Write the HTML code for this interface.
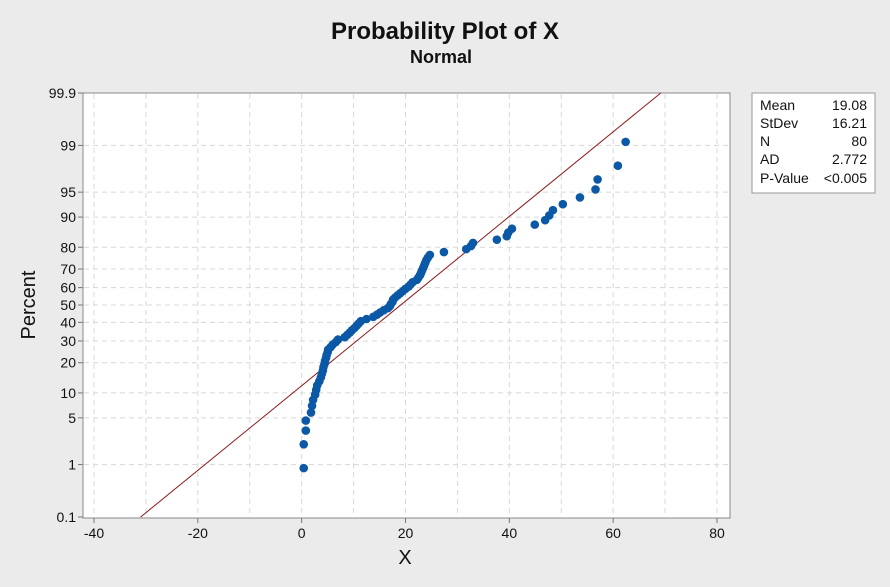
<!DOCTYPE html>
<html><head><meta charset="utf-8"><style>
body{margin:0;background:#ebebeb;}
svg text{font-family:"Liberation Sans",sans-serif;}
</style></head><body>
<svg width="890" height="582" xmlns="http://www.w3.org/2000/svg">
<rect x="0" y="0" width="890" height="582" fill="#ebebeb"/>
<text x="445" y="39" text-anchor="middle" font-size="24" font-weight="bold" fill="#111">Probability Plot of X</text>
<text x="441" y="63" text-anchor="middle" font-size="18" font-weight="bold" fill="#111">Normal</text>
<rect x="83" y="93" width="647" height="425" fill="#fff" stroke="#888"/>
<g id="grid"></g>
<g id="axes"></g>
<g id="fit"></g>
<g id="pts"></g>
<text x="405" y="564" text-anchor="middle" font-size="20" fill="#111">X</text>
<text transform="translate(35,305) rotate(-90)" text-anchor="middle" font-size="20" fill="#111">Percent</text>
<g>
<rect x="752" y="93" width="123" height="100" fill="#fff" stroke="#999"/>
<g font-size="14" fill="#111">
<text x="760" y="110">Mean</text><text x="867" y="110" text-anchor="end">19.08</text>
<text x="760" y="128">StDev</text><text x="867" y="128" text-anchor="end">16.21</text>
<text x="760" y="146">N</text><text x="867" y="146" text-anchor="end">80</text>
<text x="760" y="164">AD</text><text x="867" y="164" text-anchor="end">2.772</text>
<text x="760" y="183">P-Value</text><text x="867" y="183" text-anchor="end">&lt;0.005</text>
</g></g>
</svg>
<script>
const xTicks=[-40,-20,0,20,40,60,80];
const yTicks=[0.1,1,5,10,20,30,40,50,60,70,80,90,95,99,99.9];
const meanVal=19.08;
const sdVal=16.21;
const xValues=[0.4,0.4,0.8,0.8,1.8,2.0,2.2,2.6,2.8,3.0,3.4,3.7,3.9,4.1,4.2,4.4,4.5,4.7,4.8,5.0,5.1,5.6,6.0,6.6,7.0,8.3,8.8,9.3,9.7,10.2,10.6,11.0,11.4,12.5,13.8,14.5,15.1,15.8,16.6,17.0,17.2,17.5,17.6,18.0,18.5,19.0,19.5,20.0,20.6,21.0,21.4,22.2,22.5,22.8,23.0,23.2,23.4,23.6,23.8,24.0,24.3,24.7,27.4,31.7,32.6,33.0,37.6,39.5,39.8,40.5,44.9,46.9,47.7,48.4,50.3,53.6,56.6,57.0,60.9,62.4];
function invN(p){const a=[-39.69683028665376,220.9460984245205,-275.9285104469687,138.357751867269,-30.66479806614716,2.506628277459239],b=[-54.47609879822406,161.5858368580409,-155.6989798598866,66.80131188771972,-13.28068155288572],c=[-0.007784894002430293,-0.3223964580411365,-2.400758277161838,-2.549732539343734,4.374664141464968,2.938163982698783],d=[0.007784695709041462,0.3224671290700398,2.445134137142996,3.754408661907416];let q,r;
if(p<0.02425){q=Math.sqrt(-2*Math.log(p));return(((((c[0]*q+c[1])*q+c[2])*q+c[3])*q+c[4])*q+c[5])/((((d[0]*q+d[1])*q+d[2])*q+d[3])*q+1);}
if(p>1-0.02425){q=Math.sqrt(-2*Math.log(1-p));return-(((((c[0]*q+c[1])*q+c[2])*q+c[3])*q+c[4])*q+c[5])/((((d[0]*q+d[1])*q+d[2])*q+d[3])*q+1);}
q=p-0.5;r=q*q;return(((((a[0]*r+a[1])*r+a[2])*r+a[3])*r+a[4])*r+a[5])*q/(((((b[0]*r+b[1])*r+b[2])*r+b[3])*r+b[4])*r+1);}
const X0=94,X1=717,XMIN=-40,XMAX=80;
function sx(v){return X0+(v-XMIN)/(XMAX-XMIN)*(X1-X0);}
const ZT=invN(0.999),YT=93,YB=517;
function sy(pct){const z=invN(pct/100);return (YT+YB)/2 - z/ZT*(YB-YT)/2;}
const NS="http://www.w3.org/2000/svg";
function mk(t,at,parent){const e=document.createElementNS(NS,t);for(const k in at)e.setAttribute(k,at[k]);parent.appendChild(e);return e;}
const grid=document.getElementById('grid'),axes=document.getElementById('axes'),fit=document.getElementById('fit'),pts=document.getElementById('pts');
for(let v=XMIN;v<=XMAX;v+=10){const l=mk('line',{x1:sx(v),x2:sx(v),y1:94,y2:517,stroke:'#d8d8d8','stroke-dasharray':'5,4'},grid);

}
yTicks.forEach(p=>{const y=sy(p);
if(p>0.1&&p<99.9){const l=mk('line',{x1:84,x2:729,y1:y,y2:y,stroke:'#d8d8d8','stroke-dasharray':'5,4'},grid);

}
mk('line',{x1:78,x2:83,y1:y,y2:y,stroke:'#777'},axes);
const t=mk('text',{x:76,y:y+5,'text-anchor':'end','font-size':14,fill:'#111'},axes);t.textContent=String(p);

});
xTicks.forEach(v=>{const x=sx(v);
mk('line',{x1:x,x2:x,y1:518,y2:523,stroke:'#777'},axes);
const t=mk('text',{x:x,y:538,'text-anchor':'middle','font-size':14,fill:'#111'},axes);t.textContent=String(v);

});
const zl=invN(0.001),zh=invN(0.999);
const fl=mk('line',{x1:sx(meanVal+zl*sdVal),y1:sy(0.1),x2:sx(meanVal+zh*sdVal),y2:sy(99.9),stroke:'#8b1a1a','stroke-width':1},fit);


const n=xValues.length;const sorted=xValues.slice().sort((a,b)=>a-b);
sorted.forEach((v,i)=>{const pct=(i+1-0.3)/(n+0.4)*100;
const c=mk('circle',{cx:sx(v),cy:sy(pct),r:4.3,fill:'#0a58a6'},pts);

});
</script>
</body></html>
